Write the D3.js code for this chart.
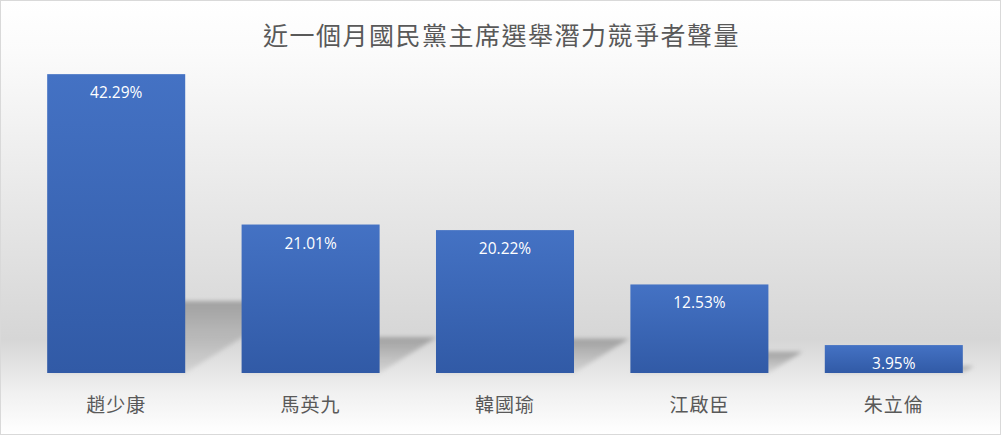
<!DOCTYPE html>
<html>
<head>
<meta charset="utf-8">
<script src="https://cdn.jsdelivr.net/npm/d3@7"></script>
<style>
  html, body { margin: 0; padding: 0; background: #fff; }
  svg { display: block; }
</style>
</head>
<body>
<div id="chart"></div>
<script>
var w = 1003;
var h = 437;
var margin = ({top: 55, right: 12, bottom: 64, left: 19});

var titleText = "近一個月國民黨主席選舉潛力競爭者聲量";
var names = ["趙少康", "馬英九", "韓國瑜", "江啟臣", "朱立倫"];
var shares = [42.29, 21.01, 20.22, 12.53, 3.95];

var svg = d3.select("#chart")
    .append("svg")
    .attr("width", w)
    .attr("height", h);

var defs = svg.append("defs");

// background fades white -> grey -> white
var bg = defs.append("linearGradient")
    .attr("id", "bg")
    .attr("x1", 0).attr("y1", 0).attr("x2", 0).attr("y2", 1);
bg.append("stop").attr("offset", "0%").attr("stop-color", "#ffffff");
bg.append("stop").attr("offset", "12%").attr("stop-color", "#fbfbfb");
bg.append("stop").attr("offset", "78%").attr("stop-color", "#d6d6d6");
bg.append("stop").attr("offset", "90%").attr("stop-color", "#f0f0f0");
bg.append("stop").attr("offset", "100%").attr("stop-color", "#ffffff");

var barGrad = defs.append("linearGradient")
    .attr("id", "bar")
    .attr("x1", 0).attr("y1", 0).attr("x2", 0).attr("y2", 1);
barGrad.append("stop").attr("offset", "0%").attr("stop-color", "#4472c4");
barGrad.append("stop").attr("offset", "100%").attr("stop-color", "#315aa6");

var shGrad = defs.append("linearGradient")
    .attr("id", "shadow")
    .attr("x1", 0).attr("y1", 0).attr("x2", 0).attr("y2", 1);
shGrad.append("stop").attr("offset", "0%").attr("stop-color", "#999999").attr("stop-opacity", 0.9);
shGrad.append("stop").attr("offset", "100%").attr("stop-color", "#b5b5b5").attr("stop-opacity", 0.35);

defs.append("filter")
    .attr("id", "blur")
    .attr("x", "-20%").attr("y", "-20%").attr("width", "140%").attr("height", "140%")
    .append("feGaussianBlur")
    .attr("stdDeviation", 2);

svg.append("rect")
    .attr("x", 0.5).attr("y", 0.5)
    .attr("width", w - 3).attr("height", h - 3)
    .attr("fill", "url(#bg)")
    .attr("stroke", "#d9d9d9");

var xScale = d3.scaleBand()
    .domain(names)
    .range([margin.left, w - margin.right])
    .paddingInner(0.29)
    .paddingOuter(0.145);

var yScale = d3.scaleLinear()
    .domain([0, 45])
    .range([h - margin.bottom, margin.top]);

var base = yScale(0);

// perspective shadows behind the bars
svg.append("g")
    .attr("filter", "url(#blur)")
    .selectAll("path")
    .data(shares)
    .enter()
    .append("path")
    .attr("fill", "url(#shadow)")
    .attr("d", function(d, i) {
        var x0 = xScale(names[i]);
        var x1 = x0 + xScale.bandwidth();
        var sh = (base - yScale(d)) * 0.24;
        var dx = sh * 1.6;
        return "M" + x0 + "," + base +
               "L" + x1 + "," + base +
               "L" + (x1 + dx) + "," + (base - sh) +
               "L" + (x0 + dx) + "," + (base - sh) + "Z";
    });

svg.append("g")
    .selectAll("rect")
    .data(shares)
    .enter()
    .append("rect")
    .attr("x", function(d, i) { return xScale(names[i]); })
    .attr("y", function(d) { return yScale(d); })
    .attr("width", xScale.bandwidth())
    .attr("height", function(d) { return base - yScale(d); })
    .attr("fill", "url(#bar)");

svg.append("g")
    .selectAll("text")
    .data(shares)
    .enter()
    .append("text")
    .attr("x", function(d, i) { return xScale(names[i]) + xScale.bandwidth() / 2; })
    .attr("y", function(d) { return yScale(d) + 24; })
    .attr("text-anchor", "middle")
    .attr("fill", "#ffffff")
    .style("font-family", "'Open Sans', 'Noto Sans', sans-serif")
    .style("font-size", "15.5px")
    .text(function(d) { return d.toFixed(2) + "%"; });

// category axis, no line or ticks
var xAxis = svg.append("g")
    .attr("transform", "translate(0," + base + ")")
    .call(d3.axisBottom(xScale).tickSize(0).tickPadding(26));
xAxis.select(".domain").remove();
xAxis.selectAll(".tick text")
    .attr("fill", "#595959")
    .style("font-family", "'Noto Sans CJK TC', 'Noto Sans CJK SC', sans-serif")
    .style("font-size", "19px")
    .style("letter-spacing", "1px");

svg.append("text")
    .attr("x", w / 2)
    .attr("y", 45)
    .attr("text-anchor", "middle")
    .attr("fill", "#595959")
    .style("font-family", "'Noto Sans CJK TC', 'Noto Sans CJK SC', sans-serif")
    .style("font-size", "25px")
    .style("letter-spacing", "1.5px")
    .text(titleText);
</script>
</body>
</html>
